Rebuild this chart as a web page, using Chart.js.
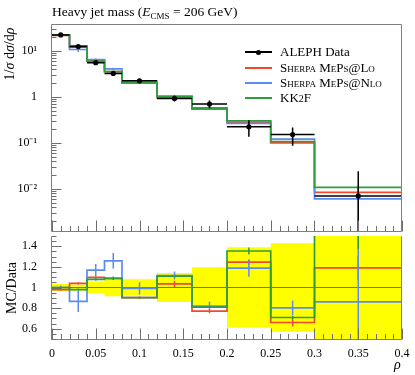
<!DOCTYPE html>
<html>
<head>
<meta charset="utf-8">
<script src="https://cdn.jsdelivr.net/npm/chart.js@4.4.1/dist/chart.umd.min.js"></script>
<style>
  body { margin: 0; background: #fff; }
  #wrap { position: relative; width: 415px; height: 375px; overflow: hidden; font-family: "Liberation Serif", "DejaVu Serif", serif; color: #000; }
  canvas { position: absolute; left: 0; }
  #topChart { top: 0; }
  #ratioChart { top: 236px; }
  .txt { position: absolute; white-space: nowrap; }
  .title { left: 52px; top: 4px; font-size: 13.5px; }
  .title sub { font-size: 9px; vertical-align: -3px; }
  .rot { transform: translate(-50%, -50%) rotate(-90deg); font-size: 14px; }
  .leg { position: absolute; left: 245px; width: 160px; height: 15px; font-size: 13px; line-height: 15px; }
  .leg .ln { position: absolute; left: 0; top: 7px; width: 27px; height: 2px; }
  .leg .dot { position: absolute; left: 11px; top: 5.5px; width: 5px; height: 5px; border-radius: 50%; background: #000; }
  .leg .tx { position: absolute; left: 35px; top: 0; white-space: nowrap; }
  .sc { font-variant: small-caps; }
</style>
</head>
<body>
<div id="wrap">
  <canvas id="topChart" width="415" height="236"></canvas>
  <canvas id="ratioChart" width="415" height="139"></canvas>

  <div class="txt title">Heavy jet mass (<i>E</i><sub>CMS</sub> = 206 GeV)</div>
  <div class="txt rot" style="left:10px; top:54px;">1/<i>σ</i> d<i>σ</i>/d<i>ρ</i></div>
  <div class="txt rot" style="left:12px; top:288px;">MC/Data</div>
  <div class="txt" style="left:394px; top:357px; font-size:14px;"><i>ρ</i></div>

  <div class="leg" style="top:44px;"><div class="ln" style="background:#000;height:1.5px;"></div><div class="dot"></div><div class="tx">ALEPH Data</div></div>
  <div class="leg" style="top:60px;"><div class="ln" style="background:#f0492c;"></div><div class="tx sc">Sherpa MePs@Lo</div></div>
  <div class="leg" style="top:75px;"><div class="ln" style="background:#5b8cf4;"></div><div class="tx sc">Sherpa MePs@Nlo</div></div>
  <div class="leg" style="top:90px;"><div class="ln" style="background:#2f9e3a;"></div><div class="tx">KK<span style="font-size:10px">2</span>F</div></div>
</div>

<script>
/******** values */
const edges = [0, 0.02, 0.04, 0.06, 0.08, 0.12, 0.16, 0.2, 0.25, 0.3, 0.4];

const alephVals = [22.3, 12.4, 5.55, 3.24, 2.23, 0.925, 0.70, 0.223, 0.151, 0.0070];
const alephErr = [0.78, 0.37, 0.33, 0.275, 0.178, 0.13, 0.137, 0.087, 0.065, 0.017];

// MC predictions, errors are relative
const mepsLo = [21.85, 12.9, 6.1, 3.53, 2.01, 0.957, 0.539, 0.278, 0.0997, 0.00833];
const mepsLoErr = [0.01, 0.01, 0.01, 0.01, 0.01, 0.03, 0.025, 0.02, 0.06, 0.1];
const mepsNlo = [22.3, 10.73, 6.49, 4.08, 2.21, 1.032, 0.574, 0.265, 0.121, 0.00602];
const mepsNloErr = [0.02, 0.12, 0.05, 0.06, 0.06, 0.035, 0.05, 0.07, 0.09, 0.9];
const kk2f = [22.3, 12.15, 5.99, 3.53, 2.01, 1.027, 0.567, 0.302, 0.107, 0.0107];
const kk2fErr = [0.005, 0.01, 0.01, 0.015, 0.01, 0.01, 0.01, 0.025, 0.02, 0.1];

const logTicks = [0.01, 0.1, 1, 10];
const logLabels = ["10⁻²", "10⁻¹", "1", "10¹"];
const ratioTicks = [0.6, 0.8, 1, 1.2, 1.4];
const ratioLabels = ["0.6", "0.8", "1", "1.2", "1.4"];
const xTicks = [0, 0.05, 0.1, 0.15, 0.2, 0.25, 0.3, 0.35, 0.4];
const xLabels = ["0", "0.05", "0.1", "0.15", "0.2", "0.25", "0.3", "0.35", "0.4"];

const RED = "#f0492c", BLUE = "#5b8cf4", GREEN = "#2f9e3a";
const tickFont = { family: "'Liberation Serif', serif", size: 12 };

/******** helpers */
const centers = alephVals.map((v, i) => (edges[i] + edges[i + 1]) / 2);

function steps(vals) {
  return edges.map((e, i) => ({ x: e, y: vals[Math.min(i, vals.length - 1)] }));
}

function bars(vals, errs) {
  return vals.map((v, i) => ({ x0: edges[i], x1: edges[i + 1], xc: centers[i], y: v, lo: v - errs[i], hi: v + errs[i] }));
}

function mcSet(vals, rel, color) {
  return {
    data: steps(vals), stepped: true, borderColor: color, borderWidth: 1.7,
    pointRadius: 0, fill: false, clip: 2,
    bars: bars(vals, vals.map((v, i) => v * rel[i])),
  };
}

function ratioSet(vals, rel, color) {
  const r = vals.map((v, i) => v / alephVals[i]);
  return mcSet(r, rel, color);
}

// keep the plot area where we put it (no room for half labels)
function fixWidth(s) { s.width = 52; s.paddingTop = 0; s.paddingBottom = 0; }

// minor tick positions
const logMinor = [];
[0.001, 0.01, 0.1, 1, 10].forEach(d => { for (let m = 2; m <= 9; m++) logMinor.push(m * d); });
const xMinor = [];
for (let k = 1; k < 40; k++) if (k % 5) xMinor.push(k / 100);
const ratioMinor = [];
for (let k = 10; k <= 30; k++) if (k % 4) ratioMinor.push(k * 0.05);

/******** error bars drawn with the chart's own scales */
const errPlugin = {
  id: "errbars",
  beforeDatasetDraw(chart, args) {
    const ds = chart.data.datasets[args.index];
    if (!ds.bars) return;
    const xs = chart.scales.x, ys = chart.scales.y, a = chart.chartArea, ctx = chart.ctx;
    ctx.save();
    ctx.beginPath();
    ctx.rect(a.left, a.top, a.right - a.left, a.bottom - a.top);
    ctx.clip();
    ctx.strokeStyle = ds.borderColor;
    ctx.lineWidth = 1.5;
    ctx.beginPath();
    ds.bars.forEach(b => {
      const lo = ys.type === "logarithmic" ? Math.max(b.lo, ys.min / 2) : b.lo;
      const px = xs.getPixelForValue(b.xc);
      ctx.moveTo(px, ys.getPixelForValue(lo));
      ctx.lineTo(px, ys.getPixelForValue(b.hi));
      if (ds.hbar) {
        const py = ys.getPixelForValue(b.y);
        ctx.moveTo(xs.getPixelForValue(b.x0), py);
        ctx.lineTo(xs.getPixelForValue(b.x1), py);
      }
    });
    ctx.stroke();
    ctx.restore();
  }
};

/******** frame + inside ticks */
const framePlugin = {
  id: "frame",
  afterDraw(chart, args, o) {
    const a = chart.chartArea, ctx = chart.ctx, xs = chart.scales.x, ys = chart.scales.y;
    const L = a.left - 0.5, R = a.right - 0.5, T = a.top + 0.5, B = a.bottom + o.bottomShift;
    ctx.save();
    ctx.lineWidth = 1;
    ctx.strokeStyle = "#808080";
    ctx.beginPath();
    if (o.drawTop) { ctx.moveTo(L, T); ctx.lineTo(R, T); }
    ctx.moveTo(L, T); ctx.lineTo(L, B); ctx.lineTo(R, B); ctx.lineTo(R, T);
    ctx.stroke();

    ctx.strokeStyle = "#6e6e6e";
    ctx.beginPath();
    const yTick = (v, len) => {
      if (v < ys.min || v > ys.max) return;
      const py = Math.round(ys.getPixelForValue(v)) + 0.5;
      ctx.moveTo(L, py); ctx.lineTo(L + len, py);
    };
    const xTick = (v, len) => {
      const px = Math.round(xs.getPixelForValue(v)) + 0.5;
      ctx.moveTo(px, B); ctx.lineTo(px, B - len);
    };
    o.yMajor.forEach(v => yTick(v, 10));
    o.yMinor.forEach(v => yTick(v, 5));
    xTicks.forEach(v => xTick(v, 11));
    xMinor.forEach(v => xTick(v, 5.5));
    ctx.stroke();
    ctx.restore();
  }
};

/******** top panel */
const dataSet = {
  data: centers.map((c, i) => ({ x: c, y: alephVals[i] })),
  showLine: false, pointRadius: 2.6, pointBackgroundColor: "#000", pointBorderWidth: 0,
  borderColor: "#000", hbar: true,
  bars: bars(alephVals, alephErr),
};

new Chart(document.getElementById("topChart"), {
  type: "line",
  data: {
    datasets: [dataSet, mcSet(kk2f, kk2fErr, GREEN), mcSet(mepsNlo, mepsNloErr, BLUE), mcSet(mepsLo, mepsLoErr, RED)],
  },
  options: {
    responsive: false,
    animation: false,
    layout: { padding: { top: 24, right: 13, left: 0, bottom: 0 } },
    plugins: {
      legend: { display: false },
      tooltip: { enabled: false },
      frame: { yMajor: logTicks, yMinor: logMinor, drawTop: true, bottomShift: -0.5 },
    },
    scales: {
      x: { type: "linear", min: 0, max: 0.4, display: false },
      y: {
        type: "logarithmic", min: 0.00115, max: 38.5,
        grid: { display: false }, border: { display: false },
        afterFit: fixWidth,
        afterBuildTicks: s => { s.ticks = logTicks.map(v => ({ value: v })); },
        ticks: { callback: (v, i) => logLabels[i], font: tickFont, color: "#000", padding: 7, autoSkip: false },
      },
    },
  },
  plugins: [errPlugin, framePlugin],
});

/******** ratio panel */
const bandUp = alephVals.map((v, i) => 1 + alephErr[i] / v);
const bandDown = alephVals.map((v, i) => 1 - alephErr[i] / v);

new Chart(document.getElementById("ratioChart"), {
  type: "line",
  data: {
    datasets: [
      ratioSet(kk2f, kk2fErr, GREEN),
      ratioSet(mepsNlo, mepsNloErr, BLUE),
      ratioSet(mepsLo, mepsLoErr, RED),
      { data: [{ x: 0, y: 1 }, { x: 0.4, y: 1 }], borderColor: "rgba(0,0,0,0.5)", borderWidth: 1.2, pointRadius: 0, fill: false },
      { data: steps(bandUp), stepped: true, borderWidth: 0, pointRadius: 0, backgroundColor: "#ffff00", fill: "+1" },
      { data: steps(bandDown), stepped: true, borderWidth: 0, pointRadius: 0, fill: false },
    ],
  },
  options: {
    responsive: false,
    animation: false,
    layout: { padding: { top: 0, right: 13, left: 0, bottom: 0 } },
    plugins: {
      legend: { display: false },
      tooltip: { enabled: false },
      frame: { yMajor: ratioTicks, yMinor: ratioMinor, drawTop: false, bottomShift: 0.5 },
    },
    scales: {
      x: {
        type: "linear", min: 0, max: 0.4,
        grid: { display: false }, border: { display: false },
        afterFit: s => { s.height = 36; },
        afterBuildTicks: s => { s.ticks = xTicks.map(v => ({ value: v })); },
        ticks: { callback: (v, i) => xLabels[i], font: tickFont, color: "#000", padding: 0, maxRotation: 0, autoSkip: false },
      },
      y: {
        type: "linear", min: 0.5, max: 1.5,
        grid: { display: false }, border: { display: false },
        afterFit: fixWidth,
        afterBuildTicks: s => { s.ticks = ratioTicks.map(v => ({ value: v })); },
        ticks: { callback: (v, i) => ratioLabels[i], font: tickFont, color: "#000", padding: 7, autoSkip: false },
      },
    },
  },
  plugins: [errPlugin, framePlugin],
});
</script>
</body>
</html>
